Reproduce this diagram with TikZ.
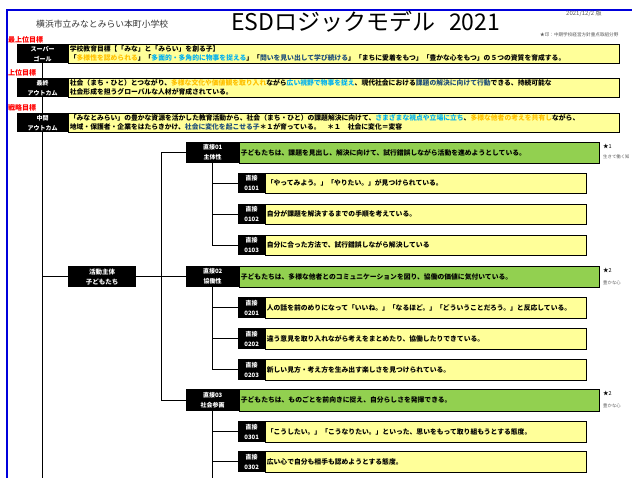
\documentclass[tikz,border=0pt]{standalone}
\usepackage{fontspec}
\newfontfamily\jp{Noto Sans CJK JP}
\definecolor{ylw}{HTML}{FFFF99}
\definecolor{grn}{HTML}{92D050}
\definecolor{orn}{HTML}{FFC000}
\definecolor{cyn}{HTML}{00B0F0}
\definecolor{dbl}{HTML}{1F4E79}
\definecolor{frm}{RGB}{0,0,220}
\begin{document}
\begin{tikzpicture}[x=1pt,y=-1pt,
  lbl/.style={fill=black,text=white,anchor=north west,inner sep=0pt,align=center,font=\jp\bfseries\fontsize{6}{10}\selectfont},
  tbox/.style={draw=black,line width=0.7pt,anchor=north west,inner xsep=1.5pt,inner ysep=0pt,align=left,font=\jp\bfseries\fontsize{6.8}{9}\selectfont},
  ybox/.style={tbox,fill=ylw},
  gbox/.style={tbox,fill=grn},
  goal/.style={text=red,font=\jp\bfseries\fontsize{7}{8}\selectfont,anchor=west,inner sep=0pt},
  note/.style={anchor=west,inner sep=0pt,text=gray!70!black},
  conn/.style={line width=0.8pt,black},
  frame/.style={draw=frm,line width=1.5pt},
]
\useasboundingbox (0,0) rectangle (632,478);
\fill[white] (0,0) rectangle (632,478);
\coordinate (bot) at (0,480);
\coordinate (br) at (161,0);

% trunk line
\draw[conn] (42.5,63) -- (42.5,480);

% header frame
\draw[frame] (7,480) -- (7,10) -- (634,10);
\node[anchor=west,inner sep=0pt,font=\jp\fontsize{8.8}{10}\selectfont,text=black!80] (school) at (36,24) {横浜市立みなとみらい本町小学校};
\node[anchor=west,inner sep=0pt,font=\jp\fontsize{23}{25}\selectfont] (title) at (231,22) {ESDロジックモデル\hspace{0.6em}2021};
\node[note,font=\jp\fontsize{6}{7}\selectfont] (ver) at (566,14) {2021/12/2 版};
\node[note,font=\jp\fontsize{4.6}{5}\selectfont] (legend) at (540,35) {★印：中期学校経営方針重点取組分野};

% goal headings
\node[goal] (g1) at (8,40) {最上位目標};
\node[goal] (g2) at (8,73) {上位目標};
\node[goal] (g3) at (8,108) {戦略目標};

% top rows
\node[lbl,minimum width=51pt,minimum height=19pt] (sg) at (17,44) {スーパー\\ゴール};
\node[ybox,text width=548pt,minimum height=19pt] (sgt) at (68,44) {学校教育目標【「みな」と「みらい」を創る子】\\「\textcolor{orn}{多様性を認められる}」「\textcolor{cyn}{多面的・多角的に物事を捉える}」「\textcolor{dbl}{問いを見い出して学び続ける}」「まちに愛着をもつ」「豊かな心をもつ」の５つの資質を育成する。};

\node[lbl,minimum width=51pt,minimum height=19pt] (fo) at (17,78) {最終\\アウトカム};
\node[ybox,text width=548pt,minimum height=19pt] (fot) at (68,78) {社会（まち・ひと）とつながり、\textcolor{orn}{多様な文化や価値観を取り入れ}ながら\textcolor{cyn}{広い視野で物事を捉え}、現代社会における\textcolor{dbl}{課題の解決に向けて行動}できる、持続可能な\\社会形成を担うグローバルな人材が育成されている。};

\node[lbl,minimum width=51pt,minimum height=19pt] (mo) at (17,113) {中間\\アウトカム};
\node[ybox,text width=548pt,minimum height=19pt] (mot) at (68,113) {「みなとみらい」の豊かな資源を活かした教育活動から、社会（まち・ひと）の課題解決に向けて、\textcolor{cyn}{さまざまな視点や立場に立ち}、\textcolor{orn}{多様な他者の考えを共有し}ながら、\\地域・保護者・企業をはたらきかけ、\textcolor{dbl}{社会に変化を起こせる子}＊１が育っている。　＊１　社会に変化＝変容};

% actor
\node[lbl,minimum width=68pt,minimum height=21pt,font=\jp\bfseries\fontsize{6.5}{10}\selectfont] (act) at (68,266) {活動主体\\子どもたち};

% direct 01
\node[lbl,minimum width=53pt,minimum height=21pt] (d1) at (186,142) {直接01\\主体性};
\node[gbox,text width=357pt,minimum height=21pt] (d1t) at (239,142) {子どもたちは、課題を見出し、解決に向けて、試行錯誤しながら活動を進めようとしている。};
\node[lbl,minimum width=27pt,minimum height=20pt] (s0101) at (238,173) {直接\\0101};
\node[ybox,text width=318pt,minimum height=20pt] (s0101t) at (265,173) {「やってみよう。」「やりたい。」が見つけられている。};
\node[lbl,minimum width=27pt,minimum height=20pt] (s0102) at (238,204) {直接\\0102};
\node[ybox,text width=318pt,minimum height=20pt] (s0102t) at (265,204) {自分が課題を解決するまでの手順を考えている。};
\node[lbl,minimum width=27pt,minimum height=20pt] (s0103) at (238,235) {直接\\0103};
\node[ybox,text width=318pt,minimum height=20pt] (s0103t) at (265,235) {自分に合った方法で、試行錯誤しながら解決している};

% direct 02
\node[lbl,minimum width=53pt,minimum height=21pt] (d2) at (186,266) {直接02\\協働性};
\node[gbox,text width=357pt,minimum height=21pt] (d2t) at (239,266) {子どもたちは、多様な他者とのコミュニケーションを図り、協働の価値に気付いている。};
\node[lbl,minimum width=27pt,minimum height=21pt] (s0201) at (238,297) {直接\\0201};
\node[ybox,text width=318pt,minimum height=21pt] (s0201t) at (265,297) {人の話を前のめりになって「いいね。」「なるほど。」「どういうことだろう。」と反応している。};
\node[lbl,minimum width=27pt,minimum height=21pt] (s0202) at (238,328) {直接\\0202};
\node[ybox,text width=318pt,minimum height=21pt] (s0202t) at (265,328) {違う意見を取り入れながら考えをまとめたり、協働したりできている。};
\node[lbl,minimum width=27pt,minimum height=21pt] (s0203) at (238,359) {直接\\0203};
\node[ybox,text width=318pt,minimum height=21pt] (s0203t) at (265,359) {新しい見方・考え方を生み出す楽しさを見つけられている。};

% direct 03
\node[lbl,minimum width=53pt,minimum height=22pt] (d3) at (186,389) {直接03\\社会参画};
\node[gbox,text width=357pt,minimum height=22pt] (d3t) at (239,389) {子どもたちは、ものごとを前向きに捉え、自分らしさを発揮できる。};
\node[lbl,minimum width=27pt,minimum height=21pt] (s0301) at (238,421) {直接\\0301};
\node[ybox,text width=318pt,minimum height=21pt] (s0301t) at (265,421) {「こうしたい。」「こうなりたい。」といった、思いをもって取り組もうとする態度。};
\node[lbl,minimum width=27pt,minimum height=21pt] (s0302) at (238,451) {直接\\0302};
\node[ybox,text width=318pt,minimum height=21pt] (s0302t) at (265,451) {広い心で自分も相手も認めようとする態度。};

% star notes
\node[note,text=black,font=\jp\fontsize{5.5}{6}\selectfont] (n1a) at (603,146) {★1};
\node[note,font=\jp\fontsize{4.4}{5}\selectfont] (n1b) at (603,157) {生きて働く知};
\node[note,text=black,font=\jp\fontsize{5.5}{6}\selectfont] (n2a) at (603,270) {★2};
\node[note,font=\jp\fontsize{4.4}{5}\selectfont] (n2b) at (603,283) {豊かな心};
\node[note,text=black,font=\jp\fontsize{5.5}{6}\selectfont] (n3a) at (603,393) {★2};
\node[note,font=\jp\fontsize{4.4}{5}\selectfont] (n3b) at (603,406) {豊かな心};

% connectors
\draw[conn] (act.west) -- (act.west -| sg.south);
\draw[conn] (d1.west) -| (br |- d3.west) -- (d3.west);
\draw[conn] (act.east) -- (br |- act.east);
\draw[conn] (d2.west) -- (br |- d2.west);
\draw[conn] (d1.south) |- (s0103.west);
\draw[conn] (s0101.west) -- (s0101.west -| d1.south);
\draw[conn] (s0102.west) -- (s0102.west -| d1.south);
\draw[conn] (d2.south) |- (s0203.west);
\draw[conn] (s0201.west) -- (s0201.west -| d2.south);
\draw[conn] (s0202.west) -- (s0202.west -| d2.south);
\draw[conn] (d3.south) -- (d3.south |- bot);
\draw[conn] (s0301.west) -- (s0301.west -| d3.south);
\draw[conn] (s0302.west) -- (s0302.west -| d3.south);
\end{tikzpicture}
\end{document}
